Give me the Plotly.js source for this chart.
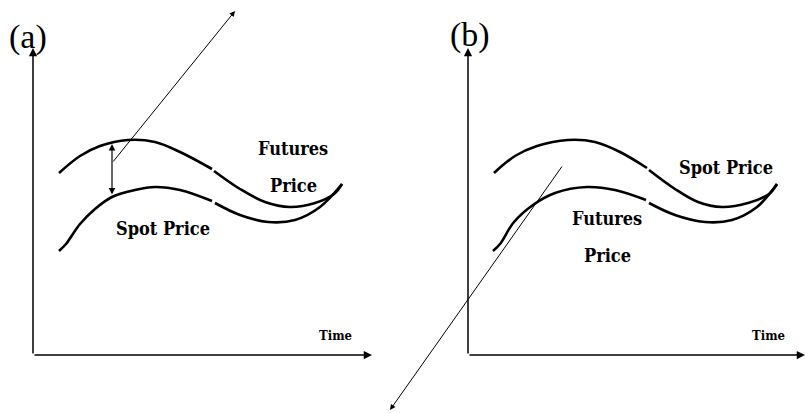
<!DOCTYPE html>
<html><head><meta charset="utf-8">
<script src="https://cdn.plot.ly/plotly-3.0.1.min.js"></script>
<style>body{margin:0;background:#fff}#c{width:805px;height:413px}</style>
</head><body><div id="c"></div>
<script>
// Panel (a): futures above spot (contango)
const aUpper1X = [59, 80, 100, 128, 155, 180, 212];
const aUpper1Y = [173, 156, 146, 140, 142, 152, 169];
const aUpper2X = [214, 240, 265, 290, 315, 334, 342];
const aUpper2Y = [171, 189, 202, 207, 203, 194, 184];
const aLower1X = [59, 66, 80, 95, 112, 135, 155, 180, 212];
const aLower1Y = [251, 244, 224, 209, 197, 190, 187, 190, 201];
const aLower2X = [215, 240, 268, 295, 320, 342];
const aLower2Y = [203, 215, 222, 220, 207, 184];
// Panel (b): spot above futures (backwardation)
const bUpper1X = [494, 515, 537, 568, 595, 620, 647];
const bUpper1Y = [173, 156, 146, 140, 142, 152, 168];
const bUpper2X = [649, 675, 698, 722, 748, 769, 777];
const bUpper2Y = [170, 189, 202, 207, 203, 194, 184];
const bLower1X = [493, 500, 514, 533, 555, 587, 615, 646];
const bLower1Y = [251, 244, 222, 205, 193, 187, 190, 200];
const bLower2X = [649, 675, 705, 732, 757, 777];
const bLower2Y = [203, 215, 222, 220, 207, 184];

const curve = (x, y) => ({x, y, mode: 'lines', type: 'scatter', hoverinfo: 'skip',
  line: {color: '#000', width: 2.6, shape: 'spline', smoothing: 1}});

const data = [
  curve(aUpper1X, aUpper1Y), curve(aUpper2X, aUpper2Y),
  curve(aLower1X, aLower1Y), curve(aLower2X, aLower2Y),
  curve(bUpper1X, bUpper1Y), curve(bUpper2X, bUpper2Y),
  curve(bLower1X, bLower1Y), curve(bLower2X, bLower2Y)
];

const arrow = (x, y, ax, ay, w, side) => ({x, y, ax, ay, xref: 'x', yref: 'y', axref: 'x', ayref: 'y',
  text: '', showarrow: true, arrowhead: 2, arrowsize: 1.1, arrowwidth: w, arrowcolor: '#000', arrowside: side || 'end', standoff: 0, startstandoff: 0});

const lab = (x, y, t, size, fam, bold) => ({x, y, xref: 'x', yref: 'y', text: t, showarrow: false,
  font: {family: fam, size: size, color: '#000', weight: bold ? 'bold' : 'normal'}});

const cond = 'DejaVu Serif Condensed';
const annotations = [
  arrow(33, 48, 33, 355, 1.5), arrow(372, 355, 33, 355, 1.5),
  arrow(468, 48, 468, 355, 1.5), arrow(805, 355, 468, 355, 1.5),
  arrow(112, 144, 112, 196, 1.2, 'end+start'),
  arrow(235, 11, 112, 163, 1),
  arrow(390, 410, 563, 165, 1),
  lab(28, 37, '(a)', 34, 'Liberation Serif', false),
  lab(470, 35, '(b)', 34, 'Liberation Serif', false),
  lab(293, 148, 'Futures', 18, cond, true),
  lab(293, 185, 'Price', 18, cond, true),
  lab(163, 228, 'Spot Price', 18, cond, true),
  lab(726, 167, 'Spot Price', 18, cond, true),
  lab(607, 218, 'Futures', 18, cond, true),
  lab(607, 255, 'Price', 18, cond, true),
  lab(335, 335, 'Time', 13, cond, true),
  lab(768, 335, 'Time', 13, cond, true)
];

const layout = {
  width: 805, height: 413, margin: {l: 0, r: 0, t: 0, b: 0},
  paper_bgcolor: '#fff', plot_bgcolor: '#fff', showlegend: false,
  xaxis: {range: [0, 805], visible: false, fixedrange: true},
  yaxis: {range: [413, 0], visible: false, fixedrange: true},
  annotations
};
Plotly.newPlot('c', data, layout, {displayModeBar: false, staticPlot: true});
</script></body></html>
